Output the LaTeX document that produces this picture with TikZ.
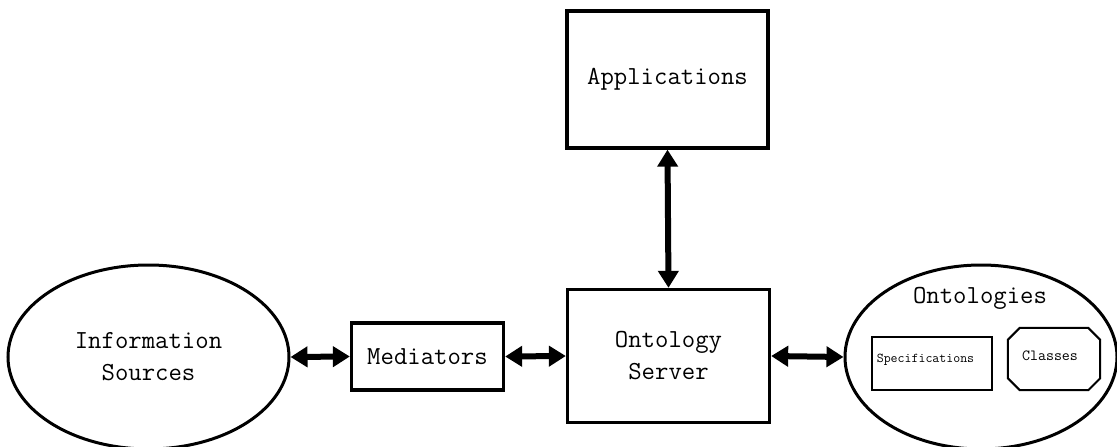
\documentclass[tikz,border=0pt]{standalone}
\usetikzlibrary{arrows.meta,shapes.geometric}
\begin{document}
\begin{tikzpicture}[x=1pt,y=-1pt,
  bigfont/.style={font=\ttfamily\fontsize{26}{32}\selectfont},
  box/.style={draw,line width=3.3pt,rectangle,inner sep=0pt,align=center,bigfont},
  cloud/.style={draw,line width=3pt,ellipse,inner sep=0pt,align=center,bigfont},
  small/.style={draw,line width=2pt,inner sep=0pt},
  biarrow/.style={line width=6pt,{Triangle[length=17pt,width=20pt]}-{Triangle[length=17pt,width=20pt]}}]
\useasboundingbox (0,0) rectangle (1117,447);
\node[box,minimum width=201pt,minimum height=137pt] (app) at (667.5,79.5) {Applications};
\node[box,minimum width=202pt,minimum height=133pt] (server) at (668.5,356) {Ontology\\Server};
\node[box,minimum width=152pt,minimum height=67pt] (med) at (427.5,356.5) {Mediators};
\node[cloud,minimum width=281pt,minimum height=184pt] (info) at (148.5,357) {Information\\Sources};
\node[cloud,minimum width=272pt,minimum height=184pt] (onto) at (981,357) {};
\node[font=\ttfamily\fontsize{26}{28}\selectfont,inner sep=0pt] (ontolabel) at (980,298) {Ontologies};
\node[small,rectangle,minimum width=120pt,minimum height=53pt] (spec) at (932,363.5) {};
\node[font=\ttfamily\fontsize{13.5}{14}\selectfont,inner sep=0pt] (spectext) at (925.5,360) {Specifications};
\node[inner sep=0pt,minimum width=92pt,minimum height=62pt] (classes) at (1054,359) {};
\draw[line width=2pt,line join=miter]
  ([xshift=12pt]classes.north west) -- ([xshift=-12pt]classes.north east)
  -- ([yshift=-12pt]classes.north east) -- ([yshift=12pt]classes.south east)
  -- ([xshift=-12pt]classes.south east) -- ([xshift=12pt]classes.south west)
  -- ([yshift=12pt]classes.south west) -- ([yshift=-12pt]classes.north west) -- cycle;
\node[font=\ttfamily\fontsize{15.5}{16}\selectfont,inner sep=0pt] (classtext) at (1050,356) {Classes};
\draw[biarrow] (app.south) -- (server.north);
\draw[biarrow] (info.east) -- (med.west);
\draw[biarrow] (med.east) -- (server.west);
\draw[biarrow] (server.east) -- (onto.west);
\end{tikzpicture}
\end{document}
